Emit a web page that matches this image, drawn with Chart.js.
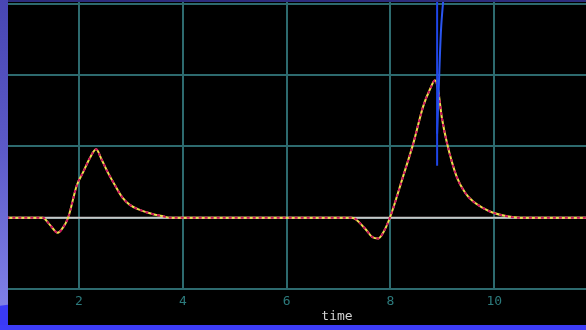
<!DOCTYPE html>
<html>
<head>
<meta charset="utf-8">
<script src="https://cdn.jsdelivr.net/npm/chart.js@4.4.1/dist/chart.umd.min.js"></script>
<style>
  html, body { margin: 0; padding: 0; background: #000; }
  #frame {
    position: relative; width: 586px; height: 330px; overflow: hidden;
    background: linear-gradient(180deg, #4846b4 0%, #5c5ac8 45%, #7a7ae2 85%, #8484ea 100%);
  }
  #swoop {
    position: absolute; left: -40px; top: 304px; width: 120px; height: 60px;
    border-radius: 50% 50% 0 0; background: #3a3af6;
  }
  #band { position: absolute; left: 0; top: 325px; width: 586px; height: 5px; background: #3c3cf8; }
  #plot {
    position: absolute; left: 8px; top: 0; width: 578px; height: 325px;
    background: #000; overflow: hidden;
  }
  #topline { position: absolute; left: 8px; top: 0; width: 578px; height: 2px; background: #2c2c7c; z-index: 2; }
  canvas { position: absolute; left: 0; top: 0; }
</style>
</head>
<body>
<div id="frame">
  <div id="swoop"></div>
  <div id="band"></div>
  <div id="plot"><canvas id="c" width="658" height="325"></canvas></div>
  <div id="topline"></div>
</div>
<script>
// Response trace sampled over time
const traceTime  = [0.6, 1.30, 1.44, 1.59, 1.68, 1.79, 1.96, 2.08, 2.21, 2.33, 2.44, 2.56, 2.69, 2.83, 2.98, 3.17, 3.43, 3.62, 3.76,
                    7.26, 7.51, 7.65, 7.77, 7.86, 7.99, 8.24, 8.44, 8.63, 8.76, 8.86, 8.92, 8.99, 9.09, 9.28, 9.44, 9.59, 9.78, 9.98, 10.25, 10.50, 13.4];
const traceValue = [0, 0, -0.10, -0.21, -0.15, 0, 0.46, 0.64, 0.84, 0.96, 0.81, 0.63, 0.46, 0.29, 0.18, 0.11, 0.05, 0.02, 0,
                    0, -0.15, -0.27, -0.29, -0.21, 0, 0.57, 1.04, 1.56, 1.80, 1.93, 1.79, 1.41, 1.05, 0.57, 0.35, 0.23, 0.14, 0.07, 0.02, 0, 0];

// Reference level
const baseTime  = [0.6, 13.4];
const baseValue = [0, 0];

// Marker strokes near the second pulse
const markTimeA  = [8.90, 8.90];
const markValueA = [0.73, 3.4];
const markTimeB  = [8.90, 8.94, 8.98, 9.06];
const markValueB = [1.18, 2.0, 2.7, 3.4];

const xTicks = [2, 4, 6, 8, 10, 12];
const yTicks = [-1, 0, 1, 2, 3];

const pts = (xs, ys) => xs.map((x, i) => ({ x: x, y: ys[i] }));

const GRID = '#2d6a6e';

new Chart(document.getElementById('c'), {
  type: 'line',
  data: {
    datasets: [
      { data: pts(markTimeA, markValueA), borderColor: '#1f46e8', borderWidth: 2, pointRadius: 0, tension: 0 },
      { data: pts(markTimeB, markValueB), borderColor: '#2a55f0', borderWidth: 2, pointRadius: 0, tension: 0.3 },
      { data: pts(traceTime, traceValue), borderColor: '#cc1262', borderWidth: 2, borderDash: [3, 3],
        pointRadius: 0, cubicInterpolationMode: 'monotone' },
      { data: pts(traceTime, traceValue), borderColor: '#ece24a', borderWidth: 2, pointRadius: 0,
        cubicInterpolationMode: 'monotone' },
      { data: pts(baseTime, baseValue), borderColor: '#c8c8c8', borderWidth: 2, pointRadius: 0 }
    ]
  },
  options: {
    responsive: false,
    animation: false,
    devicePixelRatio: 1,
    layout: { padding: 0 },
    plugins: { legend: { display: false }, tooltip: { enabled: false } },
    scales: {
      x: {
        type: 'linear',
        min: 0.632, max: 13.31,
        afterBuildTicks: s => { s.ticks = xTicks.map(v => ({ value: v })); },
        afterFit: s => { s.height = 36; },
        grid: { color: GRID, lineWidth: 2, drawTicks: false },
        border: { display: false },
        ticks: { color: '#2c7a7c', padding: 5, font: { family: 'DejaVu Sans Mono', size: 13 }, maxRotation: 0 },
        title: { display: true, text: 'time', color: '#d2d2d2', padding: { top: 0, bottom: 1 },
                 font: { family: 'DejaVu Sans Mono', size: 13 } }
      },
      y: {
        type: 'linear',
        min: -1, max: 3.056,
        afterBuildTicks: s => { s.ticks = yTicks.map(v => ({ value: v })); },
        afterFit: s => { s.width = 0; },
        grid: { color: GRID, lineWidth: 2, drawTicks: false },
        border: { display: false },
        ticks: { display: false }
      }
    }
  }
});
</script>
</body>
</html>
